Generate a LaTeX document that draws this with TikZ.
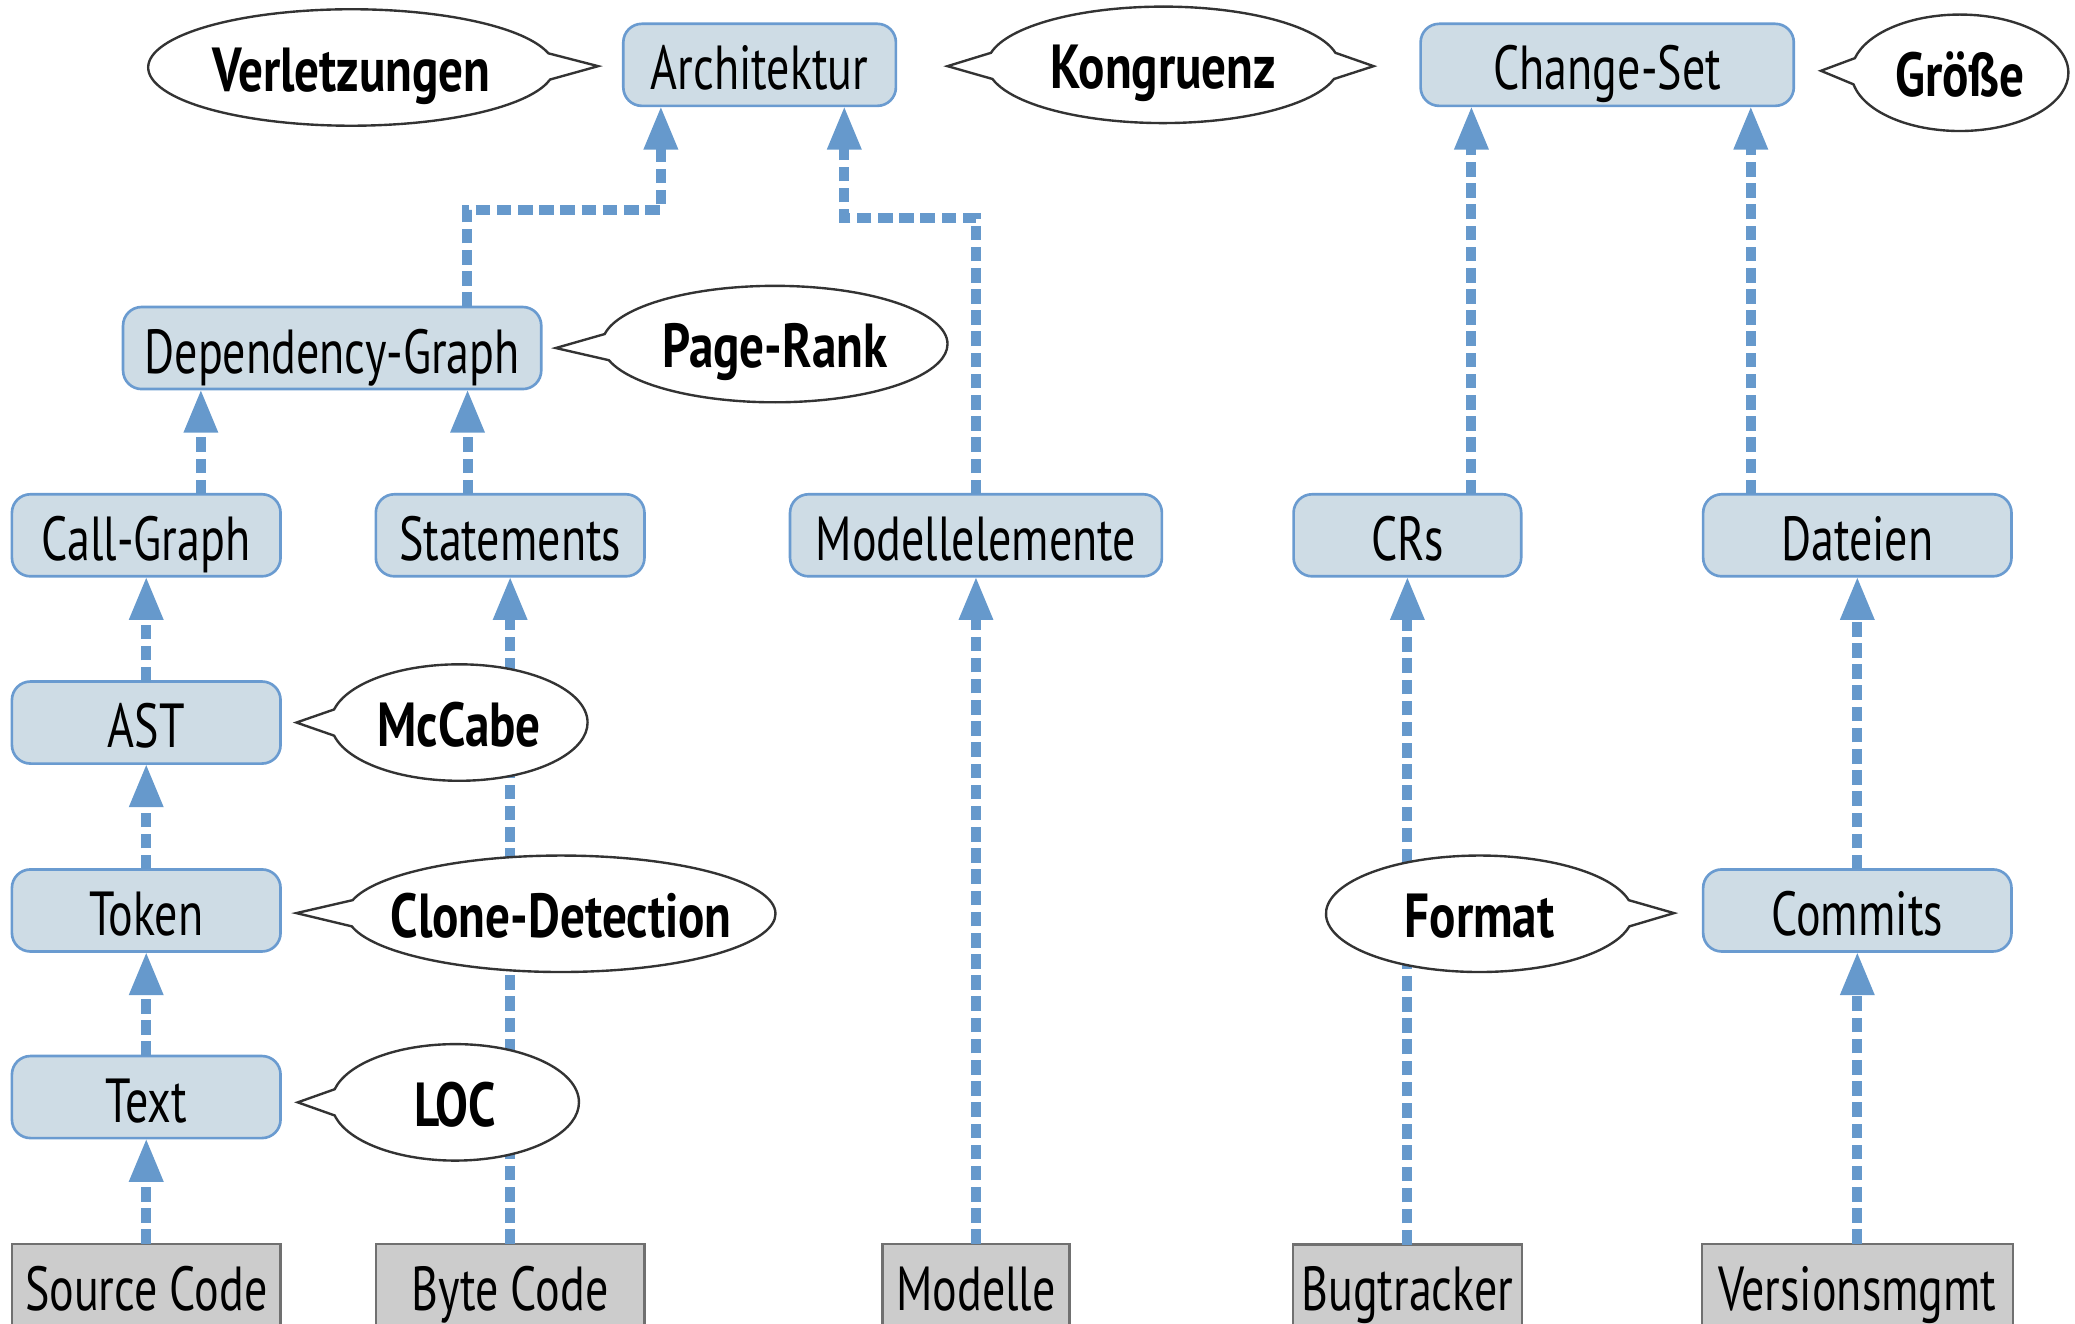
\documentclass[tikz,border=0pt]{standalone}
\usepackage{fontspec}
\setmainfont{PT Sans}[UprightFeatures={FakeStretch=0.74},BoldFeatures={FakeStretch=0.79}]
\usetikzlibrary{arrows.meta,shapes.callouts}
\definecolor{boxfill}{HTML}{CEDCE5}
\definecolor{boxline}{HTML}{6A9BD0}
\definecolor{arrowc}{HTML}{6699CC}
\definecolor{srcfill}{HTML}{CCCCCC}
\definecolor{srcline}{HTML}{707070}
\definecolor{callline}{HTML}{333333}
\begin{document}
\begin{tikzpicture}[x=1pt,y=-1pt,
 every node/.style={font=\fontsize{47}{50}\selectfont, inner sep=0pt, outer sep=0pt},
 art/.style={draw=boxline, fill=boxfill, line width=2pt, rounded corners=14pt,
   minimum height=62pt, text height=38pt, text depth=0pt},
 src/.style={draw=srcline, fill=srcfill, line width=2pt,
   minimum height=62pt, text height=38pt, text depth=0pt},
 flow/.style={draw=arrowc, line width=7.5pt, dash pattern=on 11pt off 5pt,
   -{Triangle[length=33pt,width=24pt]}},
 metrictext/.style={font=\fontsize{47}{50}\selectfont\bfseries, text height=36pt, text depth=0pt},
 metric/.style={ellipse callout, draw=callline, fill=white, line width=1.8pt,
   minimum height=88pt, callout pointer arc=26, metrictext},
]
\useasboundingbox (0,0) rectangle (1568,1000);

% derived boxes
\node[art, minimum width=206pt] (arch) at (574,49) {Architektur};
\node[art, minimum width=282pt] (cs) at (1214.5,49) {Change-Set};
\node[art, minimum width=316pt] (dg) at (251,263) {Dependency-Graph};
\node[art, minimum width=203pt] (cg) at (110.5,404.5) {Call-Graph};
\node[art, minimum width=203pt] (st) at (385.5,404.5) {Statements};
\node[art, minimum width=281pt] (me) at (737.5,404.5) {Modellelemente};
\node[art, minimum width=172pt] (crs) at (1063.5,404.5) {CRs};
\node[art, minimum width=233pt] (dat) at (1403.5,404.5) {Dateien};
\node[art, minimum width=203pt] (ast) at (110.5,546) {AST};
\node[art, minimum width=203pt] (tok) at (110.5,688) {Token};
\node[art, minimum width=203pt] (txt) at (110.5,829) {Text};
\node[art, minimum width=233pt] (com) at (1403.5,688) {Commits};

% sources
\node[src, minimum width=203pt] (sc) at (110.5,971) {Source Code};
\node[src, minimum width=203pt] (bc) at (385.5,971) {Byte Code};
\node[src, minimum width=141pt] (mod) at (737.5,971) {Modelle};
\node[src, minimum width=173pt] (bt) at (1063.5,971.5) {Bugtracker};
\node[src, minimum width=235pt] (vm) at (1403.5,971) {Versionsmgmt};

% connectors
\draw[flow] ([xshift=102pt]dg.north) -- ++(0,-73.5) -| ([xshift=-74.6pt]arch.south);
\draw[flow] (me.north) -- ++(0,-209) -| ([xshift=64pt]arch.south);
\draw[flow] ([xshift=48.4pt]crs.north) -- ([xshift=-102.6pt]cs.south);
\draw[flow] ([xshift=-80.5pt]dat.north) -- ([xshift=108.5pt]cs.south);
\draw[flow] ([xshift=41.3pt]cg.north) -- ([xshift=-99.2pt]dg.south);
\draw[flow] ([xshift=-32.2pt]st.north) -- ([xshift=102.3pt]dg.south);
\draw[flow] (ast.north) -- (cg.south);
\draw[flow] (tok.north) -- (ast.south);
\draw[flow] (txt.north) -- (tok.south);
\draw[flow] (sc.north) -- (txt.south);
\draw[flow] (bc.north) -- (st.south);
\draw[flow] (mod.north) -- (me.south);
\draw[flow] (bt.north) -- (crs.south);
\draw[flow] (com.north) -- (dat.south);
\draw[flow] (vm.north) -- (com.south);

% metric callouts
\node[metric, minimum width=307pt, callout absolute pointer={([xshift=-19pt,yshift=-1pt]arch.west)}]
  (verl) at (265.5,51) {\makebox[0pt]{Verletzungen}};
\node[metric, minimum width=261pt, callout absolute pointer={([xshift=11pt]dg.east)}]
  (pr) at (585.5,260) {\makebox[0pt]{Page-Rank}};
\node[metric, minimum width=194pt, callout absolute pointer={([xshift=12pt]ast.east)}]
  (mc) at (347,546) {\makebox[0pt]{McCabe}};
\node[metric, minimum width=324pt, callout absolute pointer={([xshift=12pt,yshift=-2pt]tok.east)}]
  (cd) at (424,690.5) {\makebox[0pt]{Clone-Detection}};
\node[metric, minimum width=187pt, callout absolute pointer={([xshift=13pt,yshift=-4pt]txt.east)}]
  (loc) at (344,833) {\makebox[0pt]{LOC}};
\node[metric, minimum width=232pt, callout absolute pointer={([xshift=-22pt,yshift=-2pt]com.west)}]
  (fmt) at (1118,690.5) {\makebox[0pt]{Format}};
\node[metric, minimum width=164pt, callout absolute pointer={([xshift=20.5pt,yshift=-4.5pt]cs.east)}]
  (gr) at (1481,55) {\makebox[0pt]{Größe}};

% Kongruenz: ellipse with two pointers
\begin{scope}
  \clip (879,-20) rectangle (690,120);
  \node[metric, minimum width=266pt, callout absolute pointer={([xshift=39pt,yshift=-1pt]arch.east)}]
    (kongL) at (879,49) {};
\end{scope}
\begin{scope}
  \clip (879,-20) rectangle (1070,120);
  \node[metric, minimum width=266pt, callout absolute pointer={([xshift=-35.5pt,yshift=-1pt]cs.west)}]
    (kongR) at (879,49) {};
\end{scope}
\node[metrictext] (kong) at (879,49) {Kongruenz};
\end{tikzpicture}
\end{document}
